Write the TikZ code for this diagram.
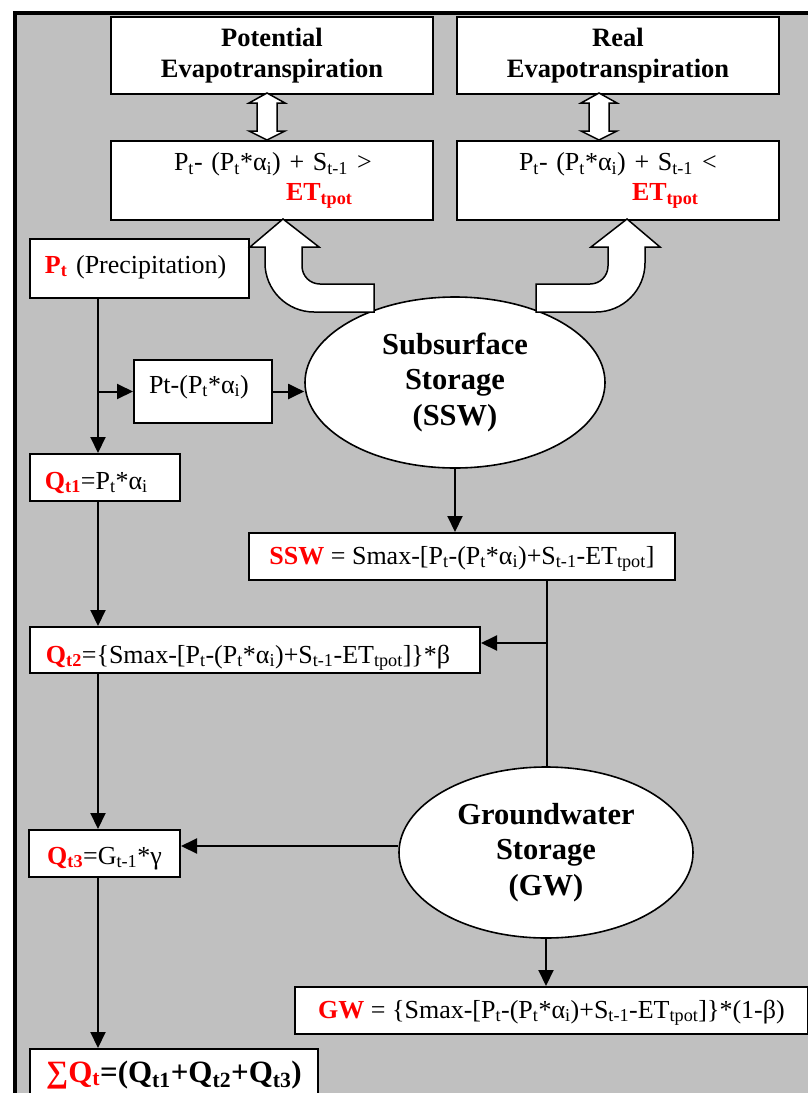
\documentclass[tikz,border=0pt]{standalone}
\usepackage{fontspec}
\setmainfont{Liberation Serif}
\usetikzlibrary{arrows.meta,shapes.geometric}
\definecolor{panel}{HTML}{C0C0C0}
\definecolor{hot}{HTML}{FF0000}
\newcommand{\sbs}[1]{\textsubscript{#1}}
\newcommand{\hot}[1]{\textcolor{hot}{\textbf{#1}}}
\tikzset{
  plainbox/.style={draw,fill=white,line width=2pt,inner xsep=0pt,inner ysep=0pt,
    anchor=north west,font=\fontsize{26}{29}\selectfont},
  leftbox/.style={plainbox,align=left},
  headbox/.style={plainbox,align=center,font=\bfseries\fontsize{26.5}{31}\selectfont},
  store/.style={ellipse,draw,fill=white,line width=1.6pt,inner sep=0pt,align=center,
    font=\bfseries\fontsize{30.5}{35.5}\selectfont},
  arr/.style={-{Triangle[length=16pt,width=15pt]},line width=2pt},
  hollow/.style={draw,fill=white,line width=1.5pt,line join=miter},
}

\begin{document}
\begin{tikzpicture}[x=1pt,y=-1pt]
  \useasboundingbox (0,0) rectangle (808,1093);
  \clip (0,0) rectangle (808,1093);
  \fill[white] (0,0) rectangle (808,1093);
  \draw[line width=4pt,fill=panel] (15,13) rectangle (840,1130);

  % evapotranspiration boxes
  \node[headbox,minimum width=322,minimum height=77] (pet) at (110,16) {Potential\\Evapotranspiration};
  \node[headbox,minimum width=322,minimum height=77] (ret) at (456,16) {Real\\Evapotranspiration};
  \node[leftbox,text width=322,minimum height=79] (pgt) at (110,140)
    {\hspace*{63pt}P\sbs{t}- (P\sbs{t}*α\sbs{i}) + S\sbs{t-1}\hspace{9pt}>\\[1pt]\hspace*{175pt}\hot{ET\sbs{tpot}}};
  \node[leftbox,text width=322,minimum height=79] (plt) at (456,140)
    {\hspace*{62pt}P\sbs{t}- (P\sbs{t}*α\sbs{i}) + S\sbs{t-1}\hspace{9pt}<\\[1pt]\hspace*{175pt}\hot{ET\sbs{tpot}}};

  % left column
  \node[leftbox,text width=219,text height=34,text depth=25] (prec) at (29,238)
    {\hspace*{15pt}\hot{P\sbs{t}} (Precipitation)};
  \node[leftbox,text width=138,text height=33,text depth=30] (pminus) at (133,359)
    {\hspace*{15pt}Pt-(P\sbs{t}*α\sbs{i})};
  \node[leftbox,text width=150,text height=35,text depth=12] (qa) at (29,453)
    {\hspace*{15pt}\hot{Q\sbs{t1}}=P\sbs{t}*α\sbs{i}};
  \node[leftbox,text width=450,text height=36,text depth=10] (qb) at (29,626)
    {\hspace*{16pt}\hot{Q\sbs{t2}}=\{Smax-[P\sbs{t}-(P\sbs{t}*α\sbs{i})+S\sbs{t-1}-ET\sbs{tpot}]\}*β};
  \node[plainbox,minimum width=151,text height=34,text depth=13] (qc) at (28,829)
    {\hot{Q\sbs{t3}}=G\sbs{t-1}*γ};
  \node[plainbox,minimum width=288,text height=33,text depth=29,
    font=\bfseries\fontsize{31}{36}\selectfont] (qsum) at (29,1048)
    {\textcolor{hot}{∑Q\sbs{t}}=(Q\sbs{t1}+Q\sbs{t2}+Q\sbs{t3})};

  % storages
  \node[store,minimum width=300,minimum height=171] (ssw) at (455,382.5) {Subsurface\\Storage\\(SSW)};
  \node[plainbox,minimum width=426,text height=31,text depth=16] (sswbox) at (248,532)
    {\hot{SSW} = Smax-[P\sbs{t}-(P\sbs{t}*α\sbs{i})+S\sbs{t-1}-ET\sbs{tpot}]};
  \node[store,minimum width=294,minimum height=171] (gw) at (546,852.5) {Groundwater\\Storage\\(GW)};
  \node[plainbox,minimum width=513,text height=31,text depth=16] (gwbox) at (294,986)
    {\hot{GW} = \{Smax-[P\sbs{t}-(P\sbs{t}*α\sbs{i})+S\sbs{t-1}-ET\sbs{tpot}]\}*(1-β)};

  % hollow arrows
  \draw[hollow] (267,93) -- (285,103) -- (277,103) -- (277,131) -- (285,131) -- (267,140)
    -- (249,131) -- (257,131) -- (257,103) -- (249,103) -- cycle;
  \draw[hollow] (599,93) -- (617,103) -- (609,103) -- (609,131) -- (617,131) -- (599,140)
    -- (581,131) -- (589,131) -- (589,103) -- (581,103) -- cycle;
  \draw[hollow] (374,312) -- (314,312) .. controls (287,312) and (265,290) .. (265,263)
    -- (265,247) -- (250,247) -- (283,219) -- (319,247) -- (302,247) -- (302,266)
    .. controls (302,276) and (310,284) .. (320,284) -- (374,284) -- cycle;
  \draw[hollow] (536,312) -- (596,312) .. controls (623,312) and (645,290) .. (645,263)
    -- (645,247) -- (660,247) -- (627,219) -- (591,247) -- (608,247) -- (608,266)
    .. controls (608,276) and (600,284) .. (590,284) -- (536,284) -- cycle;

  % flow lines
  \coordinate (lx) at (98,0);
  \coordinate (rx) at (547,0);
  \coordinate (qbin) at ([yshift=7pt]qb.east);
  \coordinate (qcin) at ([yshift=7.5pt]qc.east);
  \draw[arr] (prec.south -| lx) -- (qa.north -| lx);
  \draw[arr] (lx |- pminus.west) -- (pminus.west);
  \draw[arr] (pminus.east) -- (pminus.east -| ssw.west);
  \draw[arr] (ssw.south) -- (ssw.south |- sswbox.north);
  \draw[line width=2pt] (sswbox.south -| rx) -- (gw.north -| rx);
  \draw[arr] (qbin -| rx) -- (qbin);
  \draw[arr] (qa.south -| lx) -- (qb.north -| lx);
  \draw[arr] (qb.south -| lx) -- (qc.north -| lx);
  \draw[arr] (gw.west |- qcin) -- (qcin);
  \draw[arr] (qc.south -| lx) -- (qsum.north -| lx);
  \draw[arr] (gw.south) -- (gw.south |- gwbox.north);
\end{tikzpicture}
\end{document}
